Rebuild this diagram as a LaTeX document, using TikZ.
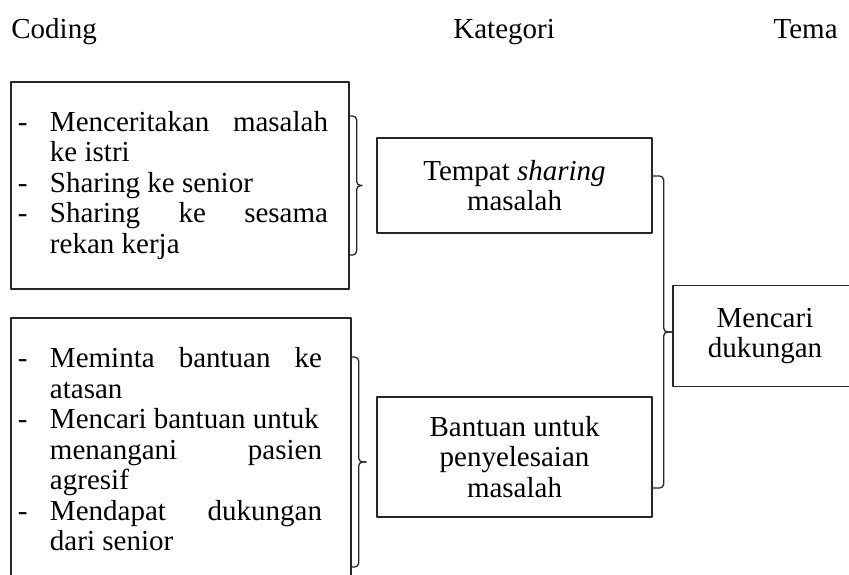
\documentclass[tikz,border=0pt]{standalone}
\usepackage{fontspec}
\setmainfont{Liberation Serif}
\newcommand{\dashitem}[1]{\hangindent16pt\hangafter1\noindent\makebox[16pt][l]{-}#1\par}
\begin{document}
\begin{tikzpicture}[x=0.5pt,y=-0.5pt,line join=round,
  every node/.style={font=\fontsize{14.5pt}{15.25pt}\selectfont},
  head/.style={anchor=base west,inner sep=0pt},
  box/.style={draw=black!85,line width=0.65pt,inner sep=0pt,align=center},
  brk/.style={draw=black!85,line width=0.65pt,rounded corners=2pt}]
  \useasboundingbox (0,0) rectangle (849,574);
  \node[head] (hc) at (11,38) {Coding};
  \node[head] (hk) at (453,38) {Kategori};
  \node[head,anchor=base east] (ht) at (838,38) {Tema};
  \node[box,minimum width=169pt,minimum height=103.5pt] (c1) at (180,185.5)
    {\parbox{155pt}{\dashitem{Menceritakan\hfill masalah\\ke istri}%
      \dashitem{Sharing ke senior}%
      \dashitem{Sharing\hfill ke\hfill sesama\\rekan kerja}}\hspace{7pt}};
  \node[box,minimum width=170pt,minimum height=131.5pt] (c2) at (181,449.5)
    {\parbox{152pt}{\dashitem{Meminta\hfill bantuan\hfill ke\\atasan}%
      \dashitem{Mencari bantuan untuk\\menangani\hfill pasien\\agresif}%
      \dashitem{Mendapat\hfill dukungan\\dari senior}}\hspace{11pt}};
  \node[box,minimum width=137.5pt,minimum height=47.5pt] (k1) at (514.5,185.5) {Tempat \textit{sharing}\\masalah};
  \node[box,minimum width=137.5pt,minimum height=60pt] (k2) at (514.5,457) {Bantuan untuk\\penyelesaian\\masalah};
  \node[box,minimum width=92pt,minimum height=50.5pt] (t1) at (765,336) {Mencari\\dukungan};
  \draw[brk] (c1.east |- 0,116) -- ++(7,0) |- ([xshift=-7pt]k1.west);
  \draw[brk] (c1.east |- 0,255) -- ++(7,0) |- ([xshift=-7pt]k1.west);
  \draw[brk] (c2.east |- 0,357) -- ++(7,0) |- ([xshift=-5pt,yshift=-2.5pt]k2.west);
  \draw[brk] (c2.east |- 0,567) -- ++(7,0) |- ([xshift=-5pt,yshift=-2.5pt]k2.west);
  \draw[brk] (k1.east |- 0,176) -- ++(11,0) |- ([yshift=2pt]t1.west);
  \draw[brk] (k2.east |- 0,488) -- ++(11,0) |- ([yshift=2pt]t1.west);
\end{tikzpicture}
\end{document}
